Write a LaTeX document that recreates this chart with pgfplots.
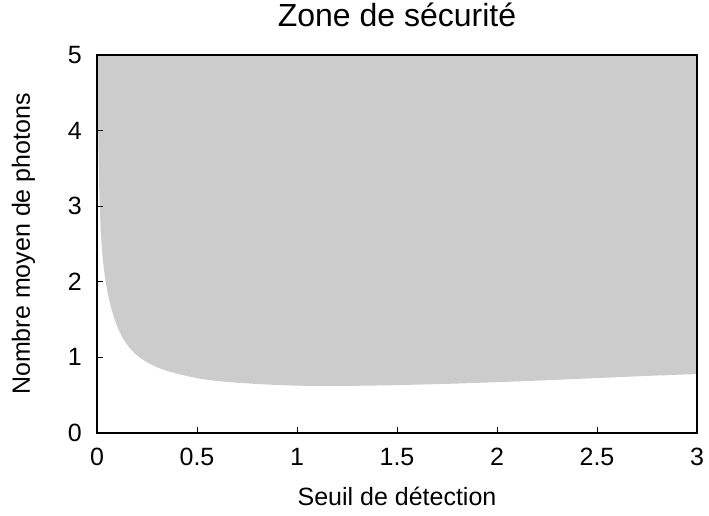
\documentclass[border=0pt]{standalone}
\usepackage{fontspec}
\setmainfont{Liberation Sans}
\usepackage{pgfplots}
\pgfplotsset{compat=1.18}
\begin{document}
\begin{tikzpicture}
\begin{axis}[
  name=ax,
  scale only axis,
  width=600pt, height=378pt,
  xmin=0, xmax=3, ymin=0, ymax=5,
  xtick={0,0.5,1,1.5,2,2.5,3},
  xticklabels={0,0.5,1,1.5,2,2.5,3},
  ytick={0,1,2,3,4,5},
  yticklabels={0,1,2,3,4,5},
  tick align=inside,
  xtick pos=bottom, ytick pos=left,
  major tick length=6pt,
  axis on top,
  axis line style={line width=1.1pt},
  tick style={line width=0.9pt, black},
  font=\fontsize{25}{30}\selectfont,
  xticklabel style={anchor=base, inner sep=0pt, yshift=-33pt},
  yticklabel style={anchor=east, inner sep=0pt, xshift=-15pt},
  xlabel={Seuil de détection},
  ylabel={Nombre moyen de photons},
  xlabel style={at={(axis description cs:0.5,-0.1905)}, anchor=base, inner sep=0pt},
  ylabel style={at={(axis description cs:-0.1117,0.5)}, anchor=base, inner sep=0pt},
  title={Zone de sécurité},
  title style={at={(axis description cs:0.5,1.0582)}, anchor=base, inner sep=0pt, font=\fontsize{32}{38}\selectfont},
]
\addplot[fill=gray!40, draw=none] coordinates {
(0,5) (0.002,5.0) (0.004,4.5) (0.006,4.0) (0.009,3.5) (0.013,3.05)
(0.018,2.7) (0.024,2.45) (0.032,2.22) (0.042,2.02) (0.055,1.83)
(0.07,1.66) (0.087,1.51) (0.107,1.37) (0.13,1.25) (0.157,1.145)
(0.185,1.06) (0.22,0.985) (0.26,0.92) (0.3,0.87) (0.35,0.82)
(0.4,0.785) (0.455,0.75) (0.52,0.715) (0.6,0.688) (0.7,0.665)
(0.8,0.648) (0.9,0.635) (1.0,0.626) (1.1,0.622) (1.2,0.622)
(1.35,0.626) (1.5,0.633) (1.75,0.65) (2.0,0.672) (2.25,0.698)
(2.5,0.727) (2.75,0.755) (3.0,0.78) (3,5)
} -- cycle;
\end{axis}
\pgfresetboundingbox
\path ([xshift=-97pt,yshift=-83pt]ax.south west) rectangle ([xshift=12pt,yshift=55pt]ax.north east);
\end{tikzpicture}
\end{document}
